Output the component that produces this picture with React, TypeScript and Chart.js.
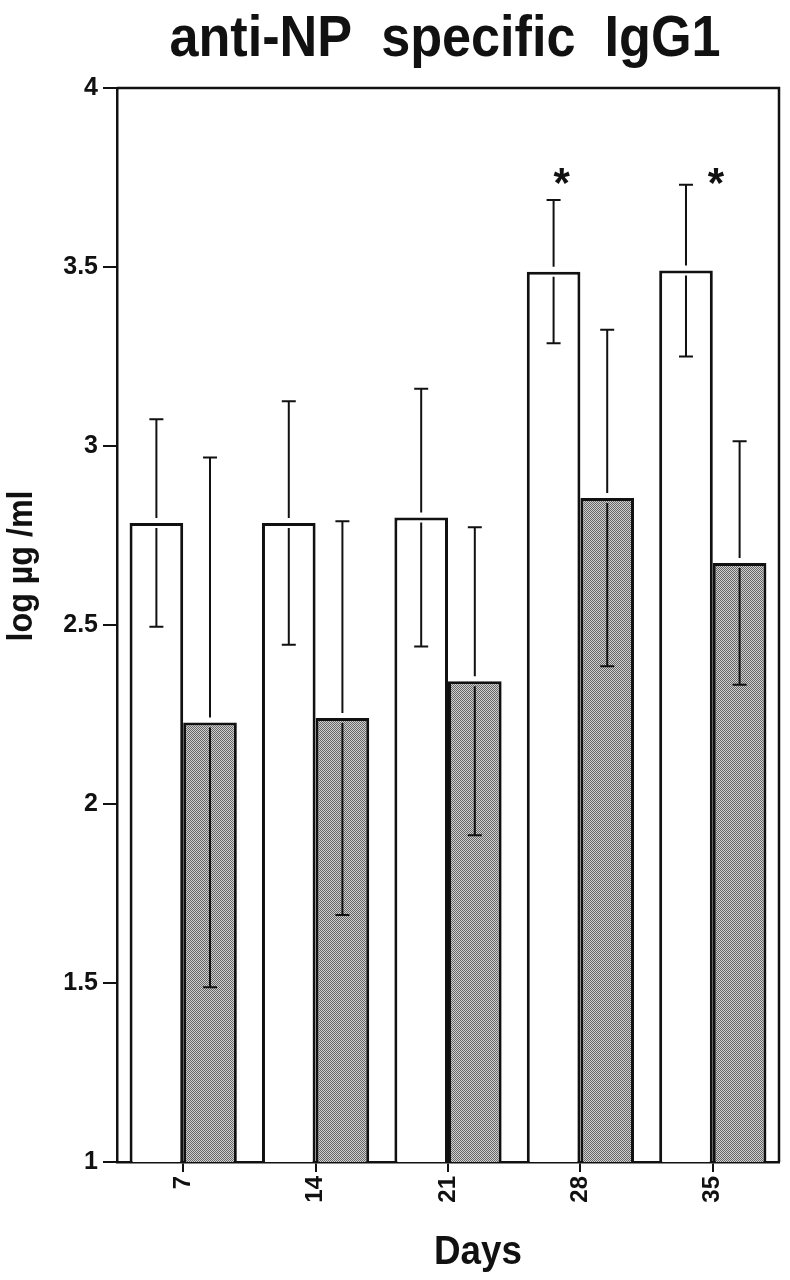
import React, { useEffect, useRef } from "react";
import { Chart, registerables } from "chart.js";

Chart.register(...registerables);

const days = ["7", "14", "21", "28", "35"];
const openMeans = [2.785, 2.785, 2.8, 3.487, 3.49];
const openSD = [0.29, 0.34, 0.36, 0.2, 0.24];
const shadedMeans = [2.228, 2.24, 2.343, 2.855, 2.673];
const shadedSD = [0.74, 0.55, 0.43, 0.47, 0.34];
const significant = [false, false, false, true, true];
const yMin = 1;
const yMax = 4;
const yStep = 0.5;

const titleText = "anti-NP  specific  IgG1";
const yTitle = "log \u00b5g /ml";
const xTitle = "Days";

const FONT = '"Liberation Sans", Arial, sans-serif';

function makePattern(): CanvasPattern | string {
  const c = document.createElement("canvas");
  c.width = 2;
  c.height = 2;
  const g = c.getContext("2d");
  if (!g) return "#9c9c9c";
  g.fillStyle = "#cfcfcf";
  g.fillRect(0, 0, 2, 2);
  g.fillStyle = "#676767";
  g.fillRect(0, 0, 1, 1);
  g.fillRect(1, 1, 1, 1);
  const p = g.createPattern(c, "repeat");
  return p || "#9c9c9c";
}

function drawNarrow(ctx: CanvasRenderingContext2D, text: string, x: number, y: number, sx: number) {
  ctx.save();
  ctx.translate(x, y);
  ctx.scale(sx, 1);
  ctx.fillText(text, 0, 0);
  ctx.restore();
}

const overlay = {
  id: "overlay",
  afterDatasetsDraw(chart: any) {
    const ctx = chart.ctx as CanvasRenderingContext2D;
    const ys = chart.scales.y;
    const area = chart.chartArea;
    const sds = [openSD, shadedSD];
    ctx.save();
    // frame
    ctx.strokeStyle = "#111";
    ctx.lineWidth = 2.5;
    ctx.beginPath();
    ctx.moveTo(area.left, area.top);
    ctx.lineTo(area.right, area.top);
    ctx.lineTo(area.right, area.bottom);
    ctx.stroke();
    // error bars
    ctx.lineWidth = 2;
    chart.data.datasets.forEach((ds: any, di: number) => {
      const meta = chart.getDatasetMeta(di);
      meta.data.forEach((bar: any, i: number) => {
        const v = ds.data[i];
        const sd = sds[di][i];
        const hi = ys.getPixelForValue(v + sd);
        const lo = ys.getPixelForValue(v - sd);
        const top = bar.y;
        const x = bar.x;
        ctx.beginPath();
        ctx.moveTo(x, hi);
        ctx.lineTo(x, top - 5);
        ctx.moveTo(x, top + 5);
        ctx.lineTo(x, lo);
        ctx.moveTo(x - 7, hi);
        ctx.lineTo(x + 7, hi);
        ctx.moveTo(x - 7, lo);
        ctx.lineTo(x + 7, lo);
        ctx.stroke();
      });
    });
    // significance marks
    const meta0 = chart.getDatasetMeta(0);
    ctx.fillStyle = "#111";
    ctx.font = `bold 42px ${FONT}`;
    ctx.textAlign = "center";
    ctx.textBaseline = "alphabetic";
    const starDx = [0, 0, 0, 8, 30];
    meta0.data.forEach((bar: any, i: number) => {
      if (!significant[i]) return;
      ctx.fillText("*", bar.x + starDx[i], ys.getPixelForValue(3.69) - 2);
    });
    ctx.restore();
  },
  afterDraw(chart: any) {
    const ctx = chart.ctx as CanvasRenderingContext2D;
    ctx.save();
    ctx.fillStyle = "#111";
    ctx.textAlign = "center";
    ctx.textBaseline = "alphabetic";
    ctx.font = `bold 58px ${FONT}`;
    drawNarrow(ctx, titleText, 445, 56, 0.9);
    ctx.font = `bold 40px ${FONT}`;
    drawNarrow(ctx, xTitle, 478, 1264, 0.92);
    ctx.translate(22, 566);
    ctx.rotate(-Math.PI / 2);
    ctx.font = `bold 35px ${FONT}`;
    ctx.textBaseline = "middle";
    drawNarrow(ctx, yTitle, 0, 0, 0.92);
    ctx.restore();
  },
};

export default function App() {
  const ref = useRef<HTMLCanvasElement | null>(null);
  useEffect(() => {
    if (!ref.current) return;
    const pattern = makePattern();
    const chart = new Chart(ref.current, {
      type: "bar",
      data: {
        labels: days,
        datasets: [
          {
            label: "open bars",
            data: openMeans,
            backgroundColor: "#ffffff",
            borderColor: "#111111",
            borderWidth: 3,
            barPercentage: 1,
            categoryPercentage: 0.81,
          },
          {
            label: "shaded bars",
            data: shadedMeans,
            backgroundColor: pattern as any,
            borderColor: "#111111",
            borderWidth: 3,
            barPercentage: 1,
            categoryPercentage: 0.81,
          },
        ],
      },
      options: {
        animation: false,
        responsive: false,
        maintainAspectRatio: false,
        layout: { padding: { left: 0, right: 11, top: 88, bottom: 0 } },
        plugins: {
          legend: { display: false },
          tooltip: { enabled: false },
          title: { display: false },
        },
        scales: {
          x: {
            grid: {
              offset: false,
              drawOnChartArea: false,
              drawTicks: true,
              tickLength: 10,
              color: "#111",
              lineWidth: 2,
            },
            border: { display: true, color: "#111", width: 2.5 },
            ticks: {
              color: "#111",
              font: { family: FONT, size: 24, weight: "bold" },
              minRotation: 90,
              maxRotation: 90,
              padding: 4,
            },
            afterFit: (s: any) => {
              s.height = 118;
            },
          },
          y: {
            min: yMin,
            max: yMax,
            grid: {
              drawOnChartArea: false,
              drawTicks: true,
              tickLength: 14,
              color: "#111",
              lineWidth: 2,
            },
            border: { display: true, color: "#111", width: 2.5 },
            ticks: {
              stepSize: yStep,
              color: "#111",
              font: { family: FONT, size: 25, weight: "bold" },
              padding: 5,
              callback: (v: any) => String(Number(v)),
            },
            afterFit: (s: any) => {
              s.width = 117;
            },
          },
        },
      },
      plugins: [overlay],
    });
    return () => chart.destroy();
  }, []);
  return (
    <div style={{ position: "fixed", left: 0, top: 0, width: 790, height: 1280, background: "#fff" }}>
      <canvas ref={ref} width={790} height={1280} style={{ width: 790, height: 1280, display: "block" }} />
    </div>
  );
}
